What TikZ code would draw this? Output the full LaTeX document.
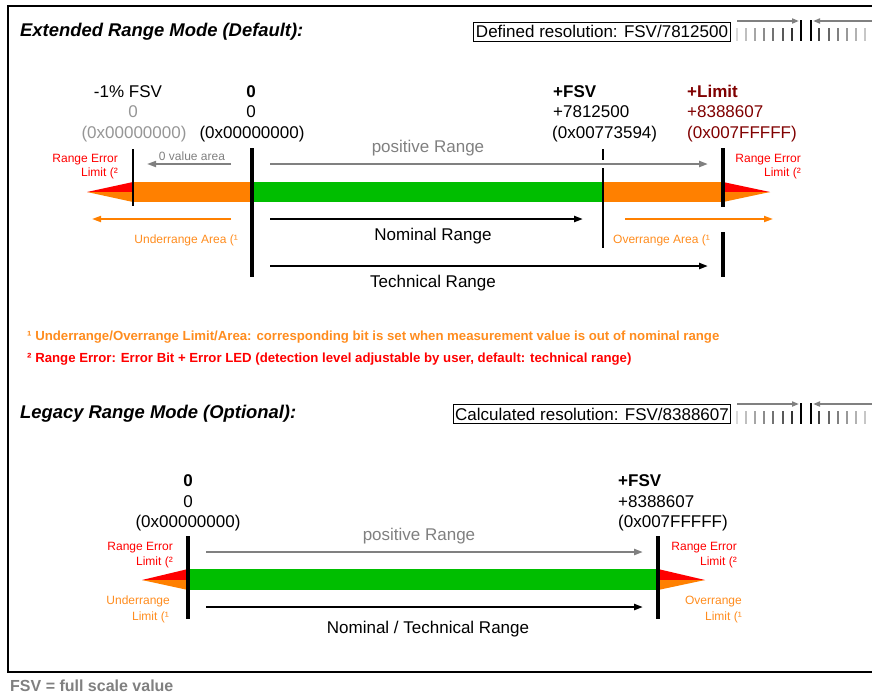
\documentclass[tikz,border=0pt]{standalone}
\usepackage{fontspec}
\setmainfont{Liberation Sans}
\usetikzlibrary{arrows.meta}
\definecolor{bargreen}{RGB}{0,190,0}
\definecolor{barorange}{RGB}{255,128,0}
\definecolor{txtorange}{RGB}{255,140,30}
\definecolor{errred}{RGB}{255,0,0}
\definecolor{limred}{RGB}{128,0,0}
\definecolor{arrgray}{RGB}{128,128,128}
\definecolor{hexgray}{RGB}{150,150,150}

\begin{document}
\begin{tikzpicture}[x=1pt,y=-1pt,
    every node/.style={inner sep=0pt},
    big/.style={font=\fontsize{17}{20}\selectfont},
    small/.style={font=\fontsize{12}{14}\selectfont},
    note/.style={font=\bfseries\fontsize{13.2}{15}\selectfont},
    head/.style={font=\bfseries\itshape\fontsize{18.4}{22}\selectfont},
    resbox/.style={big,draw,line width=1pt,inner xsep=2pt,minimum height=19pt},
    arr/.style={line width=2.2pt,-{Triangle[length=9pt,width=6pt]}},
    thickbar/.style={line width=4.5pt},
    thinbar/.style={line width=2pt}]
  \useasboundingbox (0,0) rectangle (872,697);
  \clip (0,0) rectangle (872,697);

  % frame
  \draw[line width=2pt] (890,6) -- (8,6) -- (8,672) -- (890,672);

  % resolution icons (top right of both parts)
  \foreach \oy in {0,383} {
    \begin{scope}[shift={(0,\oy)}]
      \coordinate (ia) at (737,21);
      \coordinate (ib) at (799,21);
      \coordinate (ic) at (880,21);
      \coordinate (id) at (813,21);
      \draw[arrgray,line width=1.8pt,-{Triangle[length=7pt,width=5pt]}] (ia) -- (ib);
      \draw[arrgray,line width=1.8pt,-{Triangle[length=7pt,width=5pt]}] (ic) -- (id);
      \draw[line width=2.5pt] (801,20) -- (801,41);
      \draw[line width=2.5pt] (811,20) -- (811,41);
      \foreach \tx/\tc in {737/15,746/25,755/35,764/45,773/55,783/65,792/80}
        \draw[line width=1.5pt,black!\tc] (\tx,28) -- (\tx,41);
      \foreach \tx/\tc in {819/75,829/60,838/50,847/40,856/30,865/22}
        \draw[line width=1.5pt,black!\tc] (\tx,28) -- (\tx,41);
    \end{scope}
  }

  %%% Extended Range Mode
  \node[head,anchor=base west] (ttlext) at (20,36) {Extended Range Mode (Default):};
  \node[resbox] (resext) at (602,31.5) {Defined resolution: FSV/7812500};

  % value labels
  \node[big,anchor=base] (mfsv) at (128,97) {-1\% FSV};
  \node[big,anchor=base,text=hexgray] (mval) at (133,117.5) {0};
  \node[big,anchor=base,text=hexgray] (mhex) at (134,138) {(0x00000000)};
  \node[big,anchor=base] (zero) at (251,97) {\bfseries 0};
  \node[big,anchor=base] (zval) at (251,117.5) {0};
  \node[big,anchor=base] (zhex) at (252,138) {(0x00000000)};
  \node[big,anchor=base west] (fsv) at (553,97) {\bfseries +FSV};
  \node[big,anchor=base west] (fval) at (553,117.5) {+7812500};
  \node[big,anchor=base west] (fhex) at (552,138) {(0x00773594)};
  \node[big,anchor=base west,text=limred] (lim) at (687,97) {\bfseries +Limit};
  \node[big,anchor=base west,text=limred] (lval) at (687,117.5) {+8388607};
  \node[big,anchor=base west,text=limred] (lhex) at (687,138) {(0x007FFFFF)};

  % range bar
  \fill[barorange] (133,182) rectangle (252,202);
  \fill[bargreen] (252,182) rectangle (603,202);
  \fill[barorange] (603,182) rectangle (723,202);
  \fill[errred] (87,192) -- (133,182) -- (133,192) -- cycle;
  \fill[barorange] (87,192) -- (133,192) -- (133,202) -- cycle;
  \fill[errred] (770,192) -- (723,182) -- (723,192) -- cycle;
  \fill[barorange] (770,192) -- (723,192) -- (723,202) -- cycle;

  % markers
  \draw[thinbar] (133,149) -- (133,206);
  \draw[thickbar] (252,148) -- (252,277);
  \draw[thinbar] (603,149) -- (603,160);
  \draw[thinbar] (603,168) -- (603,248);
  \draw[thickbar] (723,148) -- (723,207);
  \draw[thickbar] (723,232) -- (723,277);

  % range arrows
  \coordinate (zva) at (231,164);
  \coordinate (zvb) at (147,164);
  \coordinate (posa) at (270,164);
  \coordinate (posb) at (708,164);
  \coordinate (noma) at (270,219);
  \coordinate (nomb) at (583,219);
  \coordinate (teca) at (270,266);
  \coordinate (tecb) at (708,266);
  \coordinate (unda) at (231,219);
  \coordinate (undb) at (92,219);
  \coordinate (ovra) at (625,219);
  \coordinate (ovrb) at (773,219);
  \draw[arr,arrgray,line width=1.8pt] (zva) -- (zvb);
  \draw[arr,arrgray] (posa) -- (posb);
  \draw[arr] (noma) -- (nomb);
  \draw[arr] (teca) -- (tecb);
  \draw[arr,barorange,line width=1.8pt] (unda) -- (undb);
  \draw[arr,barorange,line width=1.8pt] (ovra) -- (ovrb);

  \node[small,anchor=base,text=arrgray] (zarea) at (192,160) {0 value area};
  \node[big,anchor=base,text=arrgray] (pos) at (428,152) {positive Range};
  \node[big,anchor=base] (nom) at (433,240) {Nominal Range};
  \node[big,anchor=base] (tech) at (433,287) {Technical Range};
  \node[small,anchor=base east,text=txtorange] (under) at (238,243) {Underrange Area (¹};
  \node[small,anchor=base west,text=txtorange] (over) at (613,243) {Overrange Area (¹};
  \node[small,anchor=base east,text=errred] (errla) at (118,162) {Range Error};
  \node[small,anchor=base east,text=errred] (errlb) at (118,176) {Limit (²};
  \node[small,anchor=base east,text=errred] (errra) at (801,162) {Range Error};
  \node[small,anchor=base east,text=errred] (errrb) at (801,176) {Limit (²};

  % footnotes
  \node[note,anchor=base west,text=txtorange] (fnone) at (27,340)
    {¹ Underrange/Overrange Limit/Area: corresponding bit is set when measurement value is out of nominal range};
  \node[note,anchor=base west,text=errred] (fntwo) at (27,362)
    {² Range Error: Error Bit + Error LED (detection level adjustable by user, default: technical range)};

  %%% Legacy Range Mode
  \node[head,anchor=base west] (ttlleg) at (20,418) {Legacy Range Mode (Optional):};
  \node[resbox] (resleg) at (592,414) {Calculated resolution: FSV/8388607};

  \node[big,anchor=base] (lzero) at (188,486) {\bfseries 0};
  \node[big,anchor=base] (lzval) at (188,507) {0};
  \node[big,anchor=base] (lzhex) at (188,527) {(0x00000000)};
  \node[big,anchor=base west] (lfsv) at (618,486) {\bfseries +FSV};
  \node[big,anchor=base west] (lfval) at (618,507) {+8388607};
  \node[big,anchor=base west] (lfhex) at (618,527) {(0x007FFFFF)};

  \fill[bargreen] (188,569) rectangle (658,590);
  \fill[errred] (142,580) -- (188,569) -- (188,580) -- cycle;
  \fill[barorange] (142,580) -- (188,580) -- (188,590) -- cycle;
  \fill[errred] (705,580) -- (658,569) -- (658,580) -- cycle;
  \fill[barorange] (705,580) -- (658,580) -- (658,590) -- cycle;
  \draw[thickbar] (188,536) -- (188,619);
  \draw[thickbar] (658,536) -- (658,619);

  \coordinate (lposa) at (206,552);
  \coordinate (lposb) at (643,552);
  \coordinate (lnoma) at (206,607);
  \coordinate (lnomb) at (643,607);
  \draw[arr,arrgray] (lposa) -- (lposb);
  \draw[arr] (lnoma) -- (lnomb);

  \node[big,anchor=base,text=arrgray] (lpos) at (419,540) {positive Range};
  \node[big,anchor=base] (lnom) at (428,633) {Nominal / Technical Range};
  \node[small,anchor=base east,text=errred] (lerrla) at (173,550) {Range Error};
  \node[small,anchor=base east,text=errred] (lerrlb) at (173,565) {Limit (²};
  \node[small,anchor=base east,text=txtorange] (lunda) at (170,604) {Underrange};
  \node[small,anchor=base east,text=txtorange] (lundb) at (169,620) {Limit (¹};
  \node[small,anchor=base east,text=errred] (lerrra) at (737,550) {Range Error};
  \node[small,anchor=base east,text=errred] (lerrrb) at (737,565) {Limit (²};
  \node[small,anchor=base east,text=txtorange] (lovra) at (742,604) {Overrange};
  \node[small,anchor=base east,text=txtorange] (lovrb) at (742,620) {Limit (¹};

  % legend
  \node[font=\bfseries\fontsize{16}{18}\selectfont,anchor=base west,text=arrgray] (fsvnote) at (10,691) {FSV = full scale value};
\end{tikzpicture}
\end{document}
